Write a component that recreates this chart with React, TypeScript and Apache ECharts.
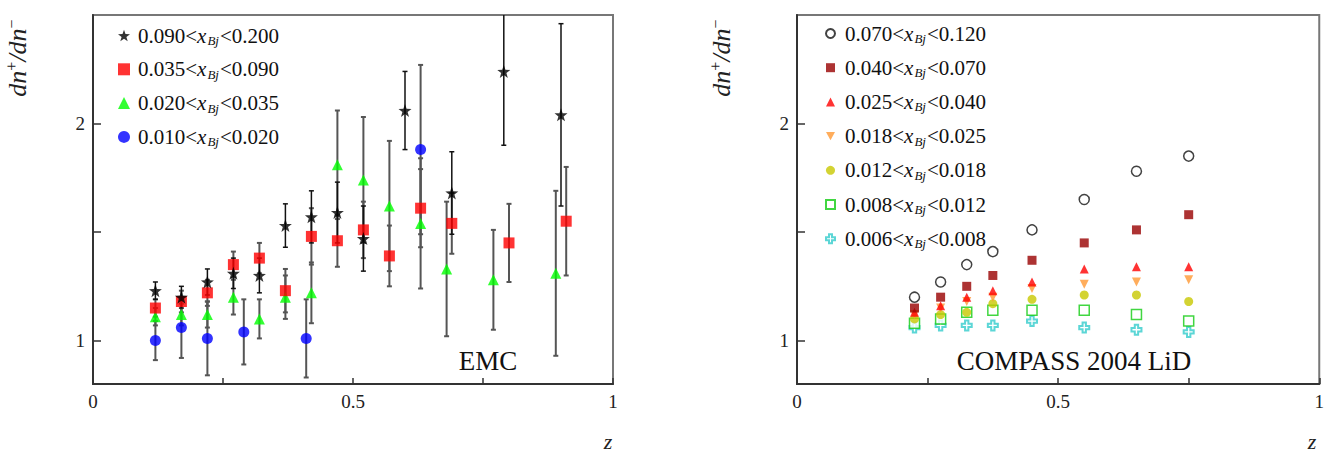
import React, { useEffect, useRef } from "react";
import * as echarts from "echarts";

// ---------- EMC data: [z, dn+/dn-, error] ----------
const emcBin1 = [ // 0.090<xBj<0.200 (stars)
  [0.12, 1.23, 0.04], [0.17, 1.20, 0.05], [0.22, 1.27, 0.06], [0.27, 1.31, 0.07],
  [0.32, 1.30, 0.08], [0.37, 1.53, 0.10], [0.42, 1.57, 0.12], [0.47, 1.59, 0.14],
  [0.52, 1.47, 0.15], [0.60, 2.06, 0.18], [0.69, 1.68, 0.19], [0.79, 2.24, 0.34],
  [0.90, 2.04, 0.42],
];
const emcBin2 = [ // 0.035<xBj<0.090 (red squares)
  [0.12, 1.15, 0.04], [0.17, 1.18, 0.05], [0.22, 1.22, 0.06], [0.27, 1.35, 0.06],
  [0.32, 1.38, 0.07], [0.37, 1.23, 0.10], [0.42, 1.48, 0.13], [0.47, 1.46, 0.12],
  [0.52, 1.51, 0.13], [0.57, 1.39, 0.14], [0.63, 1.61, 0.18], [0.69, 1.54, 0.14],
  [0.80, 1.45, 0.18], [0.91, 1.55, 0.25],
];
const emcBin3 = [ // 0.020<xBj<0.035 (green triangles)
  [0.12, 1.11, 0.04], [0.17, 1.12, 0.05], [0.22, 1.12, 0.06], [0.27, 1.20, 0.08],
  [0.32, 1.10, 0.09], [0.37, 1.20, 0.10], [0.42, 1.22, 0.14], [0.47, 1.81, 0.25],
  [0.52, 1.74, 0.29], [0.57, 1.62, 0.30], [0.63, 1.54, 0.30], [0.68, 1.33, 0.31],
  [0.77, 1.28, 0.23], [0.89, 1.31, 0.38],
];
const emcBin4 = [ // 0.010<xBj<0.020 (blue circles)
  [0.12, 1.00, 0.09], [0.17, 1.06, 0.14], [0.22, 1.01, 0.17], [0.29, 1.04, 0.15],
  [0.41, 1.01, 0.18], [0.63, 1.88, 0.39],
];

// ---------- COMPASS data ----------
const compassZ = [0.225, 0.275, 0.325, 0.375, 0.45, 0.55, 0.65, 0.75];
const compassBin1 = [1.20, 1.27, 1.35, 1.41, 1.51, 1.65, 1.78, 1.85]; // 0.070-0.120
const compassBin2 = [1.15, 1.20, 1.25, 1.30, 1.37, 1.45, 1.51, 1.58]; // 0.040-0.070
const compassBin3 = [1.13, 1.16, 1.20, 1.23, 1.27, 1.33, 1.34, 1.34]; // 0.025-0.040
const compassBin4 = [1.12, 1.15, 1.18, 1.20, 1.24, 1.26, 1.27, 1.28]; // 0.018-0.025
const compassBin5 = [1.10, 1.12, 1.13, 1.17, 1.19, 1.21, 1.21, 1.18]; // 0.012-0.018
const compassBin6 = [1.08, 1.10, 1.13, 1.14, 1.14, 1.14, 1.12, 1.09]; // 0.008-0.012
const compassBin7 = [1.06, 1.07, 1.07, 1.07, 1.09, 1.06, 1.05, 1.04]; // 0.006-0.008

const emcNames = ["0.090<x_Bj<0.200", "0.035<x_Bj<0.090", "0.020<x_Bj<0.035", "0.010<x_Bj<0.020"];
const compassNames = [
  "0.070<x_Bj<0.120", "0.040<x_Bj<0.070", "0.025<x_Bj<0.040", "0.018<x_Bj<0.025",
  "0.012<x_Bj<0.018", "0.008<x_Bj<0.012", "0.006<x_Bj<0.008",
];

const xTickLabels = ["0", "0.5", "1"];
const yTickLabels = [1, 2];

const FONT = "Liberation Serif";
const STAR = "path://M0,-10 L2.35,-3.24 L9.51,-3.09 L3.8,1.24 L5.88,8.09 L0,4 L-5.88,8.09 L-3.8,1.24 L-9.51,-3.09 L-2.35,-3.24 Z";
const CROSS = "path://M-1,-3 L1,-3 L1,-1 L3,-1 L3,1 L1,1 L1,3 L-1,3 L-1,1 L-3,1 L-3,-1 L-1,-1 Z";
const DOWN_TRI = "path://M-1,-0.9 L1,-0.9 L0,0.9 Z";

function legendFormatter(name: string) {
  const [lo, hi] = name.split("<x_Bj<");
  return `{n|${lo}<}{x|x}{b|Bj}{n|<${hi}}`;
}

const legendRich = {
  n: { fontFamily: FONT, fontSize: 21, color: "#111", lineHeight: 22 },
  x: { fontFamily: FONT, fontSize: 21, fontStyle: "italic", color: "#111", lineHeight: 22 },
  b: { fontFamily: FONT, fontSize: 13, fontStyle: "italic", color: "#111", lineHeight: 12, padding: [10, 1, 0, 1] },
};

function errorSeries(data: number[][], color: string, width: number) {
  return {
    type: "custom",
    xAxisIndex: 0,
    yAxisIndex: 0,
    clip: true,
    silent: true,
    data,
    encode: { x: 0, y: 1 },
    renderItem: (_p: any, api: any) => {
      const x = api.value(0);
      const y = api.value(1);
      const e = api.value(2);
      const t = api.coord([x, y + e]);
      const b = api.coord([x, y - e]);
      const cap = 2.5;
      const st = { stroke: color, lineWidth: width };
      return {
        type: "group",
        children: [
          { type: "line", shape: { x1: t[0], y1: t[1], x2: b[0], y2: b[1] }, style: st },
          { type: "line", shape: { x1: t[0] - cap, y1: t[1], x2: t[0] + cap, y2: t[1] }, style: st },
          { type: "line", shape: { x1: b[0] - cap, y1: b[1], x2: b[0] + cap, y2: b[1] }, style: st },
        ],
      };
    },
  };
}

function xAxis(gridIndex: number) {
  return {
    type: "value",
    gridIndex,
    min: 0,
    max: 1,
    interval: 0.25,
    axisLine: { show: true, lineStyle: { color: "#333", width: 2 } },
    axisTick: { show: true, inside: true, length: 6, lineStyle: { color: "#333", width: 1.5 } },
    axisLabel: {
      formatter: (v: number) => (v === 0 ? xTickLabels[0] : v === 0.5 ? xTickLabels[1] : v === 1 ? xTickLabels[2] : ""),
      fontFamily: FONT,
      fontSize: 19,
      color: "#222",
      margin: 8,
    },
    splitLine: { show: false },
  };
}

function yAxis(gridIndex: number) {
  return {
    type: "value",
    gridIndex,
    min: 0.8,
    max: 2.5,
    axisLine: { show: true, lineStyle: { color: "#333", width: 2 } },
    axisTick: { show: true, inside: true, length: 8, customValues: [1, 1.5, 2], lineStyle: { color: "#333", width: 1.5 } },
    axisLabel: { customValues: yTickLabels, fontFamily: FONT, fontSize: 19, color: "#222", margin: 8 },
    splitLine: { show: false },
  };
}

export default function App() {
  const ref = useRef<HTMLDivElement>(null);
  useEffect(() => {
    const chart = echarts.init(ref.current!, null, { renderer: "svg" });
    const toXY = (d: number[][]) => d.map((r) => [r[0], r[1]]);
    const comp = (ys: number[]) => compassZ.map((z, i) => [z, ys[i]]);

    const option: any = {
      animation: false,
      backgroundColor: "#fff",
      grid: [
        { left: 93, top: 15, width: 520, height: 369, show: true, borderColor: "#777", borderWidth: 2 },
        { left: 797, top: 15, width: 523, height: 369, show: true, borderColor: "#777", borderWidth: 2 },
      ],
      xAxis: [xAxis(0), xAxis(1)],
      yAxis: [yAxis(0), yAxis(1)],
      legend: [
        {
          data: emcNames,
          orient: "vertical",
          left: 113,
          top: 19,
          itemWidth: 12,
          itemHeight: 12,
          itemGap: 10.8,
          formatter: legendFormatter,
          textStyle: { rich: legendRich, padding: [0, 0, 0, 3] },
          selectedMode: false,
        },
        {
          data: compassNames.map((n, i) => (i === 3 ? { name: n, icon: DOWN_TRI } : { name: n })),
          orient: "vertical",
          left: 820,
          top: 17,
          itemWidth: 9,
          itemHeight: 9,
          itemGap: 11.2,
          formatter: legendFormatter,
          textStyle: { rich: legendRich, padding: [0, 0, 0, 5] },
          selectedMode: false,
        },
      ],
      series: [
        errorSeries(emcBin4, "#555", 2),
        errorSeries(emcBin3, "#555", 2),
        errorSeries(emcBin2, "#555", 2),
        errorSeries(emcBin1, "#111", 1.5),
        { type: "scatter", name: emcNames[3], data: toXY(emcBin4), symbol: "circle", symbolSize: 11, itemStyle: { color: "#0000ff" } },
        { type: "scatter", name: emcNames[2], data: toXY(emcBin3), symbol: "triangle", symbolSize: 11, itemStyle: { color: "#00ff00" } },
        { type: "scatter", name: emcNames[1], data: toXY(emcBin2), symbol: "rect", symbolSize: 11, itemStyle: { color: "#ff0000" } },
        { type: "scatter", name: emcNames[0], data: toXY(emcBin1), symbol: STAR, symbolSize: 13, itemStyle: { color: "#000" } },

        { type: "scatter", name: compassNames[6], xAxisIndex: 1, yAxisIndex: 1, data: comp(compassBin7), symbol: CROSS, symbolSize: 10, itemStyle: { color: "rgba(0,0,0,0)", borderColor: "#33cccc", borderWidth: 2 } },
        { type: "scatter", name: compassNames[5], xAxisIndex: 1, yAxisIndex: 1, data: comp(compassBin6), symbol: "rect", symbolSize: 10, itemStyle: { color: "#fff", borderColor: "#11cc11", borderWidth: 1.5 } },
        { type: "scatter", name: compassNames[4], xAxisIndex: 1, yAxisIndex: 1, data: comp(compassBin5), symbol: "circle", symbolSize: 9, itemStyle: { color: "#c8c800" } },
        { type: "scatter", name: compassNames[3], xAxisIndex: 1, yAxisIndex: 1, data: comp(compassBin4), symbol: DOWN_TRI, symbolSize: 9, itemStyle: { color: "#ff9933" } },
        { type: "scatter", name: compassNames[2], xAxisIndex: 1, yAxisIndex: 1, data: comp(compassBin3), symbol: "triangle", symbolSize: 9, itemStyle: { color: "#ff0000" } },
        { type: "scatter", name: compassNames[1], xAxisIndex: 1, yAxisIndex: 1, data: comp(compassBin2), symbol: "rect", symbolSize: 9, itemStyle: { color: "#990000" } },
        { type: "scatter", name: compassNames[0], xAxisIndex: 1, yAxisIndex: 1, data: comp(compassBin1), symbol: "circle", symbolSize: 10, itemStyle: { color: "#fff", borderColor: "#111", borderWidth: 1.5 } },
      ],
      graphic: [
        { type: "text", x: 488, y: 361, style: { text: "EMC", font: `27px '${FONT}'`, fill: "#111", align: "center", verticalAlign: "middle" } },
        { type: "text", x: 1074, y: 361, style: { text: "COMPASS 2004 LiD", font: `27px '${FONT}'`, fill: "#111", align: "center", verticalAlign: "middle" } },
        { type: "text", x: 608, y: 441, style: { text: "z", font: `italic 22px '${FONT}'`, fill: "#222", align: "center", verticalAlign: "middle" } },
        { type: "text", x: 1312, y: 441, style: { text: "z", font: `italic 22px '${FONT}'`, fill: "#222", align: "center", verticalAlign: "middle" } },
        ...[17, 721].map((x) => ({
          type: "text",
          x,
          y: 58,
          rotation: Math.PI / 2,
          style: {
            text: "{i|dn}{s|+}{i|/dn}{s|\u2212}",
            align: "center",
            verticalAlign: "middle",
            rich: {
              i: { fontFamily: FONT, fontStyle: "italic", fontSize: 26, fill: "#222", lineHeight: 28 },
              s: { fontFamily: FONT, fontSize: 16, fill: "#222", lineHeight: 16, padding: [0, 0, 12, 0] },
            },
          },
        })),
      ],
    };
    chart.setOption(option);
    return () => chart.dispose();
  }, []);
  return <div ref={ref} style={{ position: "fixed", left: 0, top: 0, width: 1327, height: 459 }} />;
}
